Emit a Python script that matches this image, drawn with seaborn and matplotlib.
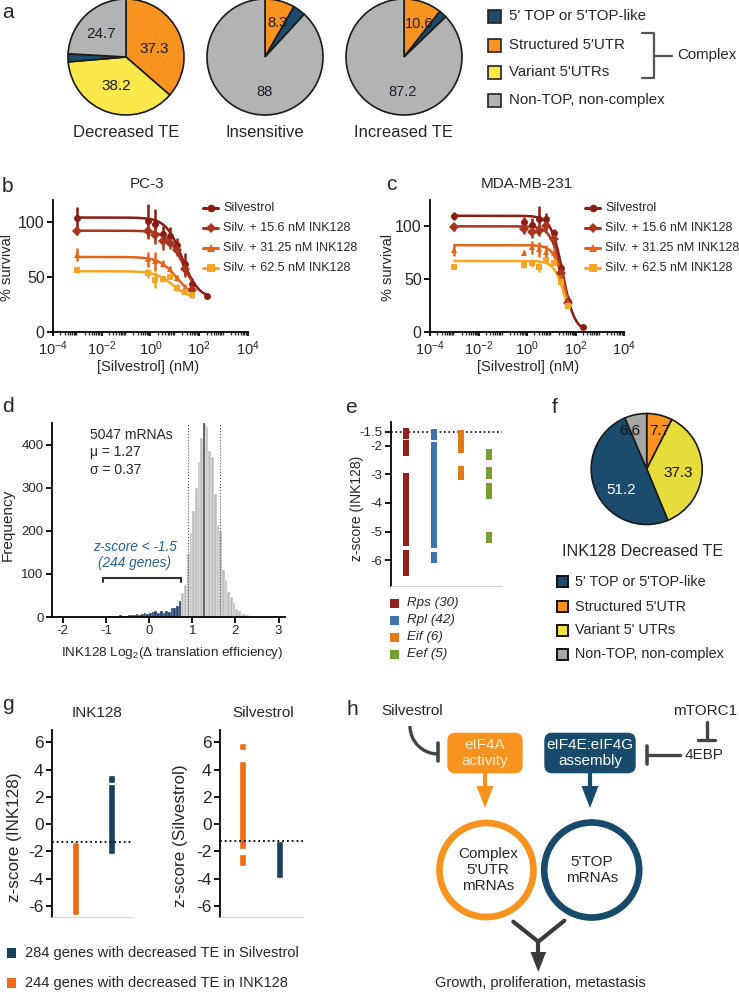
import numpy as np
import pandas as pd
import matplotlib
matplotlib.use("Agg")
import matplotlib.pyplot as plt
import seaborn as sns
from matplotlib.patches import FancyBboxPatch, Circle, Arc, Polygon, Rectangle
from matplotlib.markers import MarkerStyle
from matplotlib.ticker import LogLocator, NullFormatter

# -------------------------------
# Data
# -------------------------------
# a / f: pies, order = structured, variant, TOP, non-TOP (clockwise from top)
PIE_CATS = ["Structured 5'UTR", "Variant 5'UTRs", "5' TOP or 5'TOP-like", "Non-TOP, non-complex"]
PIE_TITLES = ["Decreased TE", "Insensitive", "Increased TE"]
PIE_DEC = [37.3, 38.2, 2.3, 24.7]
PIE_INS = [8.3, 0.0, 3.5, 88.0]
PIE_INC = [10.6, 0.0, 2.2, 87.2]
PIE_INK = [7.7, 37.3, 51.2, 6.6]

# b / c: dose response (% survival)
SERIES = ["Silvestrol", "Silv. + 15.6 nM INK128", "Silv. + 31.25 nM INK128", "Silv. + 62.5 nM INK128"]
CONC = [0.001, 0.78, 1.56, 3.13, 6.25, 12.5, 25, 50]
CONC_SILV = [0.001, 0.78, 1.56, 3.13, 6.25, 12.5, 25, 50, 200]

PC3_MEAN = [
    [104, 101, 98, 89, 87, 79, 62, 43, 32],
    [92, 92, 88, 83, 81, 74, 57, 38],
    [70, 66, 64, 62, 57, 49, 40, 33],
    [56, 53, 47, 48, 50, 40, 36, 33],
]
PC3_ERR = [
    [10, 15, 14, 7, 8, 6, 10, 6, 1],
    [4, 8, 8, 9, 6, 5, 7, 5],
    [6, 7, 9, 3, 3, 3, 3, 2],
    [3, 4, 7, 3, 2, 3, 2, 2],
]
PC3_FIT = [(104, 30, 20, 1.3), (92, 30, 22, 1.3), (68, 30, 12, 1.2), (55, 30, 8, 1.2)]

MDA_MEAN = [
    [110, 104, 101, 107, 107, 94, 60, 29, 4],
    [99, 97, 95, 96, 100, 88, 56, 27],
    [77, 75, 80, 78, 76, 75, 52, 27],
    [61, 63, 65, 61, 68, 65, 47, 24],
]
MDA_ERR = [
    [4, 5, 7, 12, 6, 3, 4, 5, 1],
    [3, 4, 6, 5, 4, 3, 4, 3],
    [5, 2, 6, 7, 6, 4, 4, 3],
    [2, 3, 4, 4, 3, 2, 3, 2],
]
MDA_FIT = [(110, 0, 30, 1.8), (100, 0, 30, 1.8), (82, 0, 35, 2.0), (67, 0, 36, 2.0)]

# d: histogram of INK128 log2 TE change
N_MRNA = 5047
MU = 1.27
SIGMA = 0.37
HIST_START = -1.0
HIST_BIN = 0.0625
HIST_COUNTS = [0, 2, 1, 3, 2, 4, 3, 2, 4, 5, 4, 6, 5, 8, 9, 7, 10, 12, 13, 10,
               14, 10, 15, 12, 22, 20, 25, 38,
               55, 75, 145, 195, 245, 300, 360, 415, 448, 440, 385, 370, 286, 210,
               200, 110, 85, 58, 46, 32, 18, 14, 8, 6, 4, 3, 2, 1, 1, 0, 1]

# e: z-scores of translation factor families
E_FAMILIES = ["Rps (30)", "Rpl (42)", "Eif (6)", "Eef (5)"]
E_RPS = [-1.55, -2.0, -2.05, -2.15, -3.15, -3.2, -3.3, -3.4, -3.5, -3.55, -3.65, -3.75,
         -3.85, -3.9, -4.0, -4.1, -4.2, -4.3, -4.4, -4.5, -4.6, -4.75, -4.85, -4.95,
         -5.05, -5.2, -5.3, -5.85, -6.1, -6.35]
E_RPL = [-1.6, -2.05, -2.1, -2.2, -2.3, -2.35, -2.45, -2.55, -2.6, -2.7, -2.8, -2.85,
         -2.95, -3.0, -3.1, -3.15, -3.25, -3.35, -3.4, -3.5, -3.6, -3.65, -3.75, -3.85,
         -3.9, -4.0, -4.1, -4.2, -4.3, -4.4, -4.5, -4.55, -4.65, -4.75, -4.85, -4.95,
         -5.05, -5.1, -5.2, -5.3, -5.4, -5.9]
E_EIF = [-1.65, -1.7, -1.85, -2.05, -2.9, -3.0]
E_EEF = [-2.3, -2.95, -3.5, -3.65, -5.22]

# g: z-score ranges (low, high) of the two gene sets
G_INK_ORANGE = [(-6.7, -1.3)]
G_INK_BLUE = [(-2.2, 2.95), (3.02, 3.6)]
G_SIL_ORANGE = [(5.4, 5.95), (-1.85, 4.63), (-3.05, -2.2)]
G_SIL_BLUE = [(-3.97, -1.22)]
G_INK_CUT = -1.34
G_SIL_CUT = -1.22
G_LEGEND = ["284 genes with decreased TE in Silvestrol", "244 genes with decreased TE in INK128"]

# colours
ORANGE = "#f7931e"
YELLOW = "#fbe84a"
NAVY = "#1b4c6e"
GREY = "#b3b3b3"
SERIES_COLORS = ["#8a1c14", "#a8361f", "#e2651b", "#f6a623"]
SERIES_MARKERS = ["o", "D", "^", "s"]
E_COLORS = ["#93201a", "#3f74ad", "#e07b1c", "#76a032"]
G_ORANGE = "#ee6a16"
G_BLUE = "#173f5f"
DARK = "#444444"

# -------------------------------
# Figure setup
# -------------------------------
sns.set_style("ticks")
plt.rcParams["font.family"] = ["Liberation Sans", "DejaVu Sans"]
plt.rcParams["mathtext.fontset"] = "custom"
plt.rcParams["mathtext.rm"] = "Liberation Sans"
plt.rcParams["mathtext.it"] = "Liberation Sans:italic"
plt.rcParams["mathtext.bf"] = "Liberation Sans:bold"
plt.rcParams["axes.unicode_minus"] = False

W, H = 739, 992
fig = plt.figure(figsize=(W / 100, H / 100), dpi=100)


def box(x0, y0, x1, y1):
    return fig.add_axes([x0 / W, 1 - y1 / H, (x1 - x0) / W, (y1 - y0) / H])


def style_axis(ax, fs, lw=1.3):
    sns.despine(ax=ax)
    for s in ("left", "bottom"):
        ax.spines[s].set_linewidth(lw)
        ax.spines[s].set_color("black")
    ax.tick_params(labelsize=fs, width=lw, length=4, color="black", pad=2)
    ax.set_xlabel("")
    ax.set_ylabel("")


def draw_pie(cx, cy, r, vals, cols, dists, shifts, txtcols, fs):
    ax = box(cx - r, cy - r, cx + r, cy + r)
    keep = [i for i, v in enumerate(vals) if v > 0]
    wedges, _ = ax.pie([vals[i] for i in keep], colors=[cols[i] for i in keep],
                       startangle=90, counterclock=False,
                       wedgeprops=dict(edgecolor="#1a1a1a", linewidth=1.2))
    ax.set_xlim(-1, 1)
    ax.set_ylim(-1, 1)
    for w, i in zip(wedges, keep):
        w.set_clip_on(False)
        if vals[i] < 5:
            continue
        # shifts are clockwise degrees away from the wedge middle
        a = np.deg2rad((w.theta1 + w.theta2) / 2 - shifts[i])
        ax.text(dists[i] * np.cos(a), dists[i] * np.sin(a), f"{vals[i]:g}",
                ha="center", va="center", fontsize=fs, color=txtcols[i])
    return ax


PIE_COLS = [ORANGE, YELLOW, NAVY, GREY]
TXT = ["#1c1c2a"] * 4

# -------------------------------
# a: pies
# -------------------------------
draw_pie(126, 57, 58, PIE_DEC, PIE_COLS, [0.5, 0.52, 0, 0.58], [8, 0, 0, -4], TXT, 11)
draw_pie(265, 57, 58, PIE_INS, PIE_COLS, [0.62, 0, 0, 0.6], [5, 0, 0, -20], TXT, 10.5)
draw_pie(404, 57, 58, PIE_INC, PIE_COLS, [0.62, 0, 0, 0.6], [6, 0, 0, -20], TXT, 10.5)

# -------------------------------
# b / c: dose response
# -------------------------------
def dose_panel(rect, ymax, means, errs, fits):
    ax = box(*rect)
    for k in range(len(SERIES)):
        conc = CONC_SILV if k == 0 else CONC
        top, bot, ec50, hill = fits[k]
        xs = np.logspace(-3, np.log10(conc[-1]), 200)
        fit = pd.DataFrame({"x": xs, "y": bot + (top - bot) / (1 + (xs / ec50) ** hill)})
        sns.lineplot(data=fit, x="x", y="y", color=SERIES_COLORS[k], lw=1.8, ax=ax)
        ax.errorbar(conc, means[k], yerr=errs[k], fmt=SERIES_MARKERS[k], color=SERIES_COLORS[k],
                    ms=5, mew=0, capsize=2.4, elinewidth=1.8, capthick=1.8)
    ax.set_xscale("log")
    ax.set_xlim(1e-4, 1e4)
    ax.set_ylim(0, ymax)
    ax.set_xticks([1e-4, 1e-2, 1, 1e2, 1e4])
    ax.set_xticklabels([r"$10^{-4}$", r"$10^{-2}$", r"$10^{0}$", r"$10^{2}$", r"$10^{4}$"])
    ax.xaxis.set_minor_locator(LogLocator(base=10, subs=np.arange(2, 10), numticks=50))
    ax.xaxis.set_minor_formatter(NullFormatter())
    ax.set_yticks([0, 50, 100])
    style_axis(ax, 11.5)
    ax.tick_params(axis="x", labelsize=10.5, pad=3, length=3)
    ax.tick_params(which="minor", length=2.5, width=1)
    return ax


dose_panel((53, 200, 248, 331.5), 120, PC3_MEAN, PC3_ERR, PC3_FIT)
dose_panel((430, 200, 624, 331.5), 125, MDA_MEAN, MDA_ERR, MDA_FIT)

# -------------------------------
# d: histogram
# -------------------------------
ax_d = box(52, 423, 285, 617)
hist = pd.DataFrame({"left": HIST_START + HIST_BIN * np.arange(len(HIST_COUNTS)),
                     "count": HIST_COUNTS})
hist["center"] = hist["left"] + HIST_BIN / 2
hist["low"] = hist["left"] < MU - 1.5 * SIGMA
edges = list(HIST_START + HIST_BIN * np.arange(len(HIST_COUNTS) + 1))
sns.histplot(data=hist[~hist["low"]], x="center", weights="count", bins=edges,
             color="#bdbdbd", edgecolor="white", linewidth=0.3, alpha=1, ax=ax_d)
sns.histplot(data=hist[hist["low"]], x="center", weights="count", bins=edges,
             color="#1f3d6e", edgecolor="white", linewidth=0.2, alpha=1, ax=ax_d)
ax_d.axvline(MU, color="#555555", lw=1.2)
ax_d.axvline(MU - SIGMA, color="#555555", lw=0.8, ls=":")
ax_d.axvline(MU + SIGMA, color="#555555", lw=0.8, ls=":")
ax_d.plot([-1.07, 0.73], [90, 90], color="#333333", lw=1.5)
ax_d.plot([-1.07, -1.07], [90, 82], color="#333333", lw=1.5)
ax_d.plot([0.73, 0.73], [90, 82], color="#333333", lw=1.5)
ax_d.set_xlim(-2.25, 3.15)
ax_d.set_ylim(0, 450)
ax_d.set_xticks([-2, -1, 0, 1, 2, 3])
ax_d.set_yticks([0, 100, 200, 300, 400])
style_axis(ax_d, 9.5)

# -------------------------------
# e: z-score strips
# -------------------------------
ax_e = box(391, 421.7, 502, 586)
e_df = pd.DataFrame({
    "family": [E_FAMILIES[0]] * len(E_RPS) + [E_FAMILIES[1]] * len(E_RPL)
    + [E_FAMILIES[2]] * len(E_EIF) + [E_FAMILIES[3]] * len(E_EEF),
    "z": E_RPS + E_RPL + E_EIF + E_EEF,
})
rect_marker = MarkerStyle([(-0.27, -0.5), (0.27, -0.5), (0.27, 0.5), (-0.27, 0.5), (-0.27, -0.5)])
sns.stripplot(data=e_df, x="family", y="z", hue="family", order=E_FAMILIES,
              hue_order=E_FAMILIES, palette=E_COLORS, jitter=False, marker=rect_marker,
              size=8, linewidth=0, legend=False, ax=ax_e)
ax_e.axhline(-1.5, color="black", lw=1.2, ls=":")
ax_e.set_xlim(-0.54, 3.47)
ax_e.set_ylim(-6.91, -1.15)
ax_e.set_yticks([-1.5, -2, -3, -4, -5, -6])
ax_e.set_yticklabels(["-1.5", "-2", "-3", "-4", "-5", "-6"])
style_axis(ax_e, 9.5)
ax_e.set_xticks([])
ax_e.spines["bottom"].set_color("#cfcfcf")
ax_e.spines["bottom"].set_linewidth(0.8)

# -------------------------------
# f: pie
# -------------------------------
draw_pie(646.7, 469, 55.5, PIE_INK, [ORANGE, "#e6dc3c", NAVY, "#a6a6a6"],
         [0.72, 0.57, 0.59, 0.74], [6, 5, -17, -12],
         ["#111111", "#111111", "white", "#111111"], 11)

# -------------------------------
# g: z-score ranges
# -------------------------------
def range_panel(rect, orange, blue, cut, xlim):
    ax = box(*rect)
    for lo, hi in orange:
        ax.bar(0, hi - lo, bottom=lo, width=0.2, color=G_ORANGE)
    for lo, hi in blue:
        ax.bar(1, hi - lo, bottom=lo, width=0.2, color=G_BLUE)
    ax.axhline(cut, color="black", lw=1.3, ls=":")
    ax.set_xlim(*xlim)
    ax.set_ylim(-6.8, 6.9)
    ax.set_yticks([-6, -4, -2, 0, 2, 4, 6])
    ax.set_yticklabels(["-6", "-4", "-2", "0", "2", "4", "6"])
    style_axis(ax, 12.5)
    ax.set_xticks([])
    ax.spines["bottom"].set_color("#d5d5d5")
    ax.spines["bottom"].set_linewidth(0.8)
    return ax


range_panel((52, 730, 133, 916.7), G_INK_ORANGE, G_INK_BLUE, G_INK_CUT, (-0.67, 1.62))
range_panel((220, 730, 303, 916.7), G_SIL_ORANGE, G_SIL_BLUE, G_SIL_CUT, (-0.62, 1.65))

# -------------------------------
# Overlay: labels, legends, diagram (pixel coordinates)
# -------------------------------
ov = fig.add_axes([0, 0, 1, 1])
ov.set_xlim(0, W)
ov.set_ylim(H, 0)
ov.axis("off")

for lab, x, y in [("a", 2, 18.5), ("b", 2, 191.7), ("c", 386, 190), ("d", 2, 411.7),
                  ("e", 345, 413), ("f", 552, 413), ("g", 2, 710), ("h", 347, 715)]:
    ov.text(x, y, lab, fontsize=15, va="baseline", ha="left")

# a labels + legend
for title, cx in zip(PIE_TITLES, [126, 265, 404]):
    ov.text(cx, 136.7, title, ha="center", va="baseline", fontsize=12)
leg_a_labels = ["5' TOP or 5'TOP-like", "Structured 5'UTR", "Variant 5'UTRs", "Non-TOP, non-complex"]
leg_a_cols = [NAVY, ORANGE, YELLOW, GREY]
for y, c, lab in zip([16, 45, 72, 100], leg_a_cols, leg_a_labels):
    ov.add_patch(Rectangle((488, y - 6.5), 13, 13, fc=c, ec="#222222", lw=1.2))
    ov.text(509, y, lab, va="center", ha="left", fontsize=10.8)
ov.plot([642, 654, 654, 642], [33, 33, 78, 78], color="#555555", lw=1.6)
ov.plot([654, 672], [55.5, 55.5], color="#555555", lw=1.6)
ov.text(677, 55.5, "Complex", va="center", ha="left", fontsize=10.8)

# b / c texts
for cx, title, ylx, lx in [(147, "PC-3", 7.5, 203), (527, "MDA-MB-231", 387.5, 585)]:
    ov.text(cx, 188, title, ha="center", va="baseline", fontsize=11)
    ov.text(ylx, 267, "% survival", rotation=90, ha="center", va="center", fontsize=10.5)
    ov.text(cx + 1, 366.5, "[Silvestrol] (nM)", ha="center", va="center", fontsize=10.5)
    for k, y in enumerate([207.7, 227.7, 248.3, 268.3]):
        ov.plot([lx, lx + 15], [y, y], color=SERIES_COLORS[k], lw=2.2)
        ov.plot([lx + 7.5], [y], marker=SERIES_MARKERS[k], color=SERIES_COLORS[k], ms=5.5, mew=0)
        ov.text(lx + 20, y, SERIES[k], va="center", ha="left", fontsize=9)

# d texts
ov.text(90, 435, f"{N_MRNA} mRNAs", va="center", ha="left", fontsize=10)
ov.text(90, 452, f"\u03bc = {MU:.2f}", va="center", ha="left", fontsize=10)
ov.text(90, 470, f"\u03c3 = {SIGMA:.2f}", va="center", ha="left", fontsize=10)
n_low = 244
ov.text(135, 547.3, "z-score < -1.5", va="center", ha="center", fontsize=9.8,
        style="italic", color="#24609a")
ov.text(134, 563.3, f"({n_low} genes)", va="center", ha="center", fontsize=9.8,
        style="italic", color="#24609a")
ov.text(7.5, 525, "Frequency", rotation=90, ha="center", va="center", fontsize=11)
ov.text(172, 653, "INK128 Log$_2$(\u0394 translation efficiency)", ha="center", va="center",
        fontsize=9.7)

# e texts
ov.text(357.5, 508, "z-score (INK128)", rotation=90, ha="center", va="center", fontsize=10)
for y, c, lab in zip([603.3, 620, 637.3, 654.3], E_COLORS, E_FAMILIES):
    ov.add_patch(Rectangle((390, y - 4.5), 8.5, 9, fc=c, ec="none"))
    ov.text(407, y, lab, va="center", ha="left", fontsize=9.6, style="italic")

# f texts
ov.text(643, 551.7, "INK128 Decreased TE", ha="center", va="center", fontsize=11.6)
leg_f_labels = ["5' TOP or 5'TOP-like", "Structured 5'UTR", "Variant 5' UTRs", "Non-TOP, non-complex"]
leg_f_cols = [NAVY, ORANGE, "#f0e040", "#a6a6a6"]
for y, c, lab in zip([581.7, 606.7, 630, 654], leg_f_cols, leg_f_labels):
    ov.add_patch(Rectangle((556.5, y - 5.5), 11, 11, fc=c, ec="#111111", lw=1.4))
    ov.text(575, y, lab, va="center", ha="left", fontsize=10.4)

# g texts
ov.text(96.7, 716.7, "INK128", ha="center", va="baseline", fontsize=11)
ov.text(263.3, 716.7, "Silvestrol", ha="center", va="baseline", fontsize=11)
ov.text(15, 837, "z-score (INK128)", rotation=90, ha="center", va="center", fontsize=12.3)
ov.text(180, 836, "z-score (Silvestrol)", rotation=90, ha="center", va="center", fontsize=12.3)
for y, c, lab in zip([953, 983], [G_BLUE, G_ORANGE], G_LEGEND):
    ov.add_patch(Rectangle((7, y - 5), 8.5, 10, fc=c, ec="none"))
    ov.text(25, y, lab, va="center", ha="left", fontsize=10.5)

# h: diagram
ov.text(411.7, 710.7, "Silvestrol", ha="center", va="center", fontsize=11)
ov.add_patch(Arc((438, 726), 56, 56, theta1=90, theta2=180, color=DARK, lw=2.4))
ov.plot([438.3, 438.3], [743, 761], color=DARK, lw=2.6)
ov.add_patch(FancyBboxPatch((447.3, 732.7), 75.4, 40.6, boxstyle="round,pad=0,rounding_size=8",
                            fc=ORANGE, ec="none"))
ov.text(485, 753, "eIF4A\nactivity", ha="center", va="center", fontsize=11,
        color="#fdebd0", linespacing=1.1)
ov.add_patch(FancyBboxPatch((544.3, 732.7), 91.4, 40.6, boxstyle="round,pad=0,rounding_size=8",
                            fc="#174a6b", ec="none"))
ov.text(590, 753, "eIF4E:eIF4G\nassembly", ha="center", va="center", fontsize=11,
        color="white", linespacing=1.1)
ov.text(705, 710.7, "mTORC1", ha="center", va="center", fontsize=11)
ov.plot([706.7, 706.7], [722, 740], color=DARK, lw=2.4)
ov.plot([698.3, 715], [740, 740], color=DARK, lw=2.4)
ov.text(704, 755, "4EBP", ha="center", va="center", fontsize=11)
ov.plot([680, 647], [755, 755], color=DARK, lw=2.4)
ov.plot([647, 647], [746, 764], color=DARK, lw=2.6)
for x, c in [(485, ORANGE), (590, "#174a6b")]:
    ov.plot([x, x], [773, 790], color=c, lw=3)
    ov.add_patch(Polygon([(x - 8.5, 786), (x + 8.5, 786), (x, 808)], closed=True, fc=c, ec="none"))
ov.add_patch(Circle((486.5, 870), 47, fill=False, ec=ORANGE, lw=4.8))
ov.add_patch(Circle((591.7, 870), 47.5, fill=False, ec="#174a6b", lw=4.8))
ov.text(488, 870, "Complex\n5'UTR\nmRNAs", ha="center", va="center", fontsize=11, linespacing=1.15)
ov.text(591.7, 870, "5'TOP\nmRNAs", ha="center", va="center", fontsize=11, linespacing=1.15)
ov.plot([513.3, 538.3, 564.3], [921.7, 941.7, 920.7], color="#3a3a3a", lw=3)
ov.plot([538.3, 538.3], [941.7, 956], color="#3a3a3a", lw=3)
ov.add_patch(Polygon([(530.5, 952), (546.1, 952), (538.3, 972)], closed=True, fc="#3a3a3a", ec="none"))
ov.text(540, 983.3, "Growth, proliferation, metastasis", ha="center", va="center", fontsize=10.5)

fig.savefig("out.png", dpi=100)
